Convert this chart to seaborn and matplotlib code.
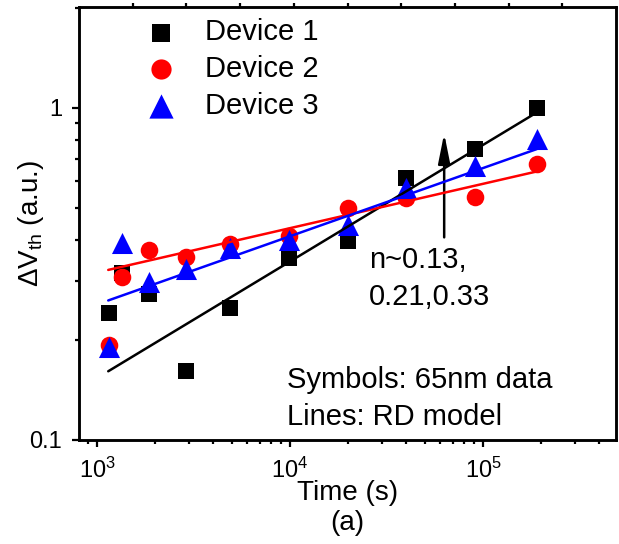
import numpy as np
import pandas as pd
import seaborn as sns
import matplotlib.pyplot as plt
from matplotlib.ticker import FixedLocator, LogLocator, NullFormatter, FixedFormatter

# stress time (s) for the measured points
time_s = [1150, 1350, 1870, 2900, 4870, 9900, 20000, 40000, 91000, 190000]
dev1 = [0.241, 0.318, 0.275, 0.161, 0.250, 0.352, 0.396, 0.614, 0.751, 1.00]
dev2 = [0.193, 0.309, 0.373, 0.355, 0.389, 0.410, 0.499, 0.535, 0.538, 0.678]
dev3 = [0.191, 0.393, 0.298, 0.327, 0.379, 0.400, 0.444, 0.573, 0.669, 0.805]

# RD model lines (power law -> straight on log-log, two end points each)
fit_time = [1144, 190000]
fit1 = [0.161, 0.968]
fit2 = [0.325, 0.643]
fit3 = [0.263, 0.751]

labels = ["Device 1", "Device 2", "Device 3"]
colors = ["black", "#ff0000", "#0000ff"]
markers = ["s", "o", "^"]
msizes = [128, 160, 230]

sns.set_theme(style="ticks")
plt.rcParams["font.family"] = ["Liberation Sans", "DejaVu Sans"]
plt.rcParams["mathtext.fontset"] = "custom"
plt.rcParams["mathtext.rm"] = "Liberation Sans"
plt.rcParams["mathtext.it"] = "Liberation Sans"
plt.rcParams["mathtext.bf"] = "Liberation Sans:bold"
for key in ["text.color", "axes.labelcolor", "xtick.color", "ytick.color",
            "axes.edgecolor"]:
    plt.rcParams[key] = "black"

fig = plt.figure(figsize=(6.19, 5.44), dpi=100)
ax = fig.add_axes([0.1276, 0.1912, 0.8676, 0.7959])

points = pd.DataFrame({"time": time_s * 3, "dvth": dev1 + dev2 + dev3,
                       "device": np.repeat(labels, len(time_s))})
lines = pd.DataFrame({"time": fit_time * 3, "dvth": fit1 + fit2 + fit3,
                      "device": np.repeat(labels, len(fit_time))})

for lab, c, m, s in zip(labels, colors, markers, msizes):
    sub = points[points["device"] == lab]
    sns.scatterplot(data=sub, x="time", y="dvth", ax=ax, color=c, marker=m,
                    s=s, linewidth=0, label=lab, zorder=3)
for lab, c in zip(labels, colors):
    sub = lines[lines["device"] == lab]
    sns.lineplot(data=sub, x="time", y="dvth", ax=ax, color=c, lw=1.8,
                 legend=False, zorder=4)

ax.set_xscale("log")
ax.set_yscale("log")
ax.set_xlim(807, 4.89e5)
ax.set_ylim(0.1, 2.01)

ax.yaxis.set_major_locator(FixedLocator([0.1, 1]))
ax.yaxis.set_major_formatter(FixedFormatter(["0.1", "1"]))
ax.yaxis.set_minor_locator(LogLocator(base=10, subs=np.arange(2, 10)))
ax.yaxis.set_minor_formatter(NullFormatter())
ax.xaxis.set_minor_locator(LogLocator(base=10, subs=np.arange(2, 10)))
ax.xaxis.set_minor_formatter(NullFormatter())

ax.tick_params(which="major", direction="out", length=5, width=1.6,
               labelsize=17, pad=7, top=False, right=False)
ax.tick_params(which="minor", direction="out", length=3, width=1.6,
               top=False, right=False)
ax.tick_params(axis="x", which="major", pad=8)
for sp in ax.spines.values():
    sp.set_linewidth(1.8)
    sp.set_visible(True)
    sp.set_color("black")

# linear ticks on top edge
top = ax.twiny()
top.set_xlim(0, 1)
top.set_xticks(np.arange(0.1, 1.0, 0.1))
top.tick_params(axis="x", direction="out", length=3, width=1.6, labeltop=False)
for sp in top.spines.values():
    sp.set_linewidth(1.8)

ax.set_xlabel("Time (s)", fontsize=20, labelpad=-2)
ax.set_ylabel(r"$\mathregular{\Delta V_{th}}$ (a.u.)", fontsize=20, labelpad=-12)
fig.text(0.561, 0.015, "(a)", fontsize=20, ha="center", va="bottom")

ax.legend(loc="upper left", bbox_to_anchor=(0.104, 1.001), frameon=False,
          fontsize=21, handletextpad=1.0, labelspacing=0.3, borderaxespad=0,
          handlelength=1.0, markerscale=1.15)

ax.annotate("", xy=(0.68, 0.708), xytext=(0.68, 0.468), xycoords="axes fraction",
            arrowprops=dict(arrowstyle="-|>,head_length=0.9,head_width=0.18",
                            color="black", lw=1.8, mutation_scale=20,
                            shrinkA=0, shrinkB=0))
ax.text(0.540, 0.397, "n~0.13,", transform=ax.transAxes, fontsize=21, va="baseline")
ax.text(0.540, 0.312, "0.21,0.33", transform=ax.transAxes, fontsize=21, va="baseline")
ax.text(0.387, 0.120, "Symbols: 65nm data", transform=ax.transAxes, fontsize=21,
        va="baseline")
ax.text(0.387, 0.035, "Lines: RD model", transform=ax.transAxes, fontsize=21,
        va="baseline")

fig.savefig("out.png", dpi=100)
